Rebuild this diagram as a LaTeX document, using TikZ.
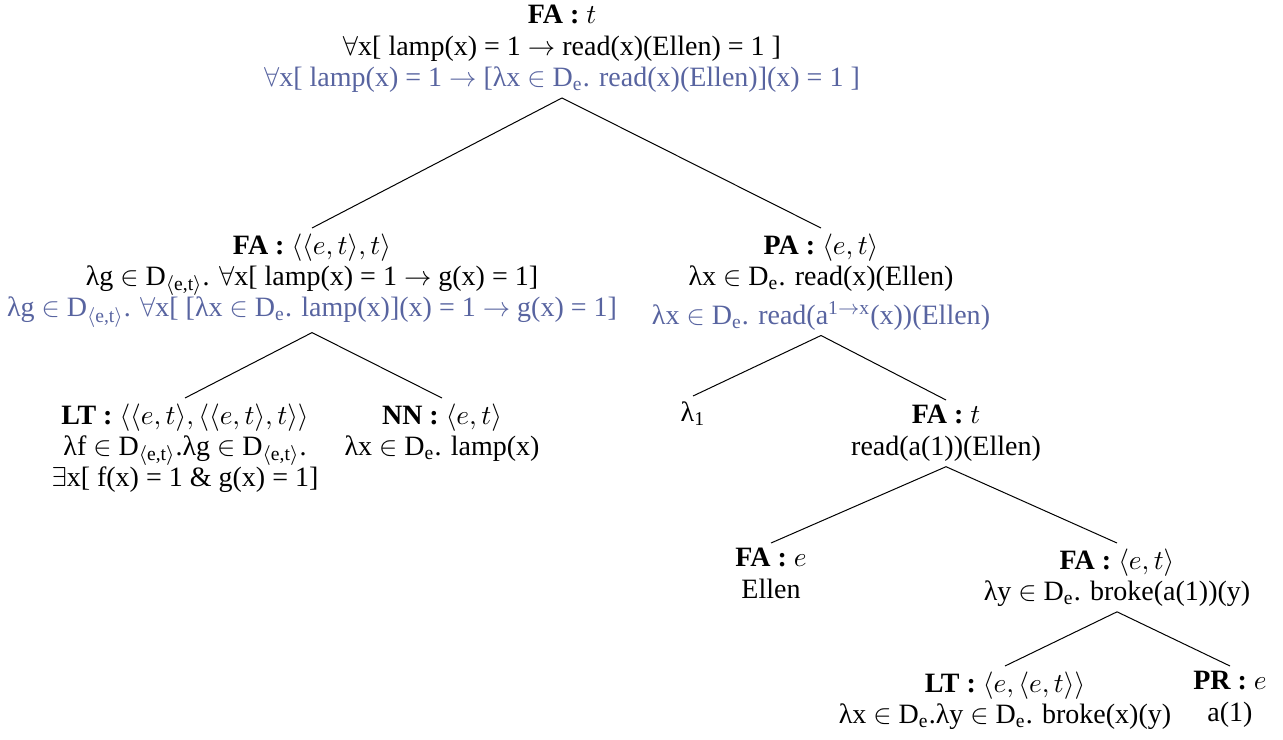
\documentclass[tikz,border=0pt]{standalone}
\usepackage{fontspec}
\setmainfont{Liberation Serif}
\usepackage{xcolor}
\definecolor{glossblue}{RGB}{88,100,160}
\newcommand{\Dsube}{D\textsubscript{e}}
\newcommand{\Dsubet}{D\textsubscript{$\langle$e,t$\rangle$}}
\newcommand{\rl}[1]{\textbf{#1 :}}

\begin{document}
\begin{tikzpicture}[x=0.4pt,y=-0.4pt,
  tnode/.style={align=center,anchor=north,inner sep=2pt,font=\fontsize{11.2}{12.5}\selectfont},
  gloss/.style={glossblue}]
\useasboundingbox (0,0) rectangle (1283,739);

% root
\node[tnode] (top) at (562,0) {\rl{FA} $t$\\
  $\forall$x[ lamp(x) = 1 $\rightarrow$ read(x)(Ellen) = 1 ]\\
  \textcolor{glossblue}{$\forall$x[ lamp(x) = 1 $\rightarrow$ [λx $\in$ \Dsube. read(x)(Ellen)](x) = 1 ]}};

% subject side
\node[tnode] (subj) at (312,228) {\rl{FA} $\langle\langle e,t\rangle,t\rangle$\\
  λg $\in$ \Dsubet. $\forall$x[ lamp(x) = 1 $\rightarrow$ g(x) = 1]\\
  \textcolor{glossblue}{λg $\in$ \Dsubet. $\forall$x[ [λx $\in$ \Dsube. lamp(x)](x) = 1 $\rightarrow$ g(x) = 1]}};
\node[tnode] (det) at (185,398) {\rl{LT} $\langle\langle e,t\rangle,\langle\langle e,t\rangle,t\rangle\rangle$\\
  λf $\in$ \Dsubet.λg $\in$ \Dsubet.\\
  $\exists$x[ f(x) = 1 \& g(x) = 1]};
\node[tnode] (noun) at (442,398) {\rl{NN} $\langle e,t\rangle$\\
  λx $\in$ \Dsube. lamp(x)};

% predicate side
\node[tnode] (pred) at (821,228) {\rl{PA} $\langle e,t\rangle$\\
  λx $\in$ \Dsube. read(x)(Ellen)\\[3pt]
  \textcolor{glossblue}{λx $\in$ \Dsube. read(a\textsuperscript{1$\rightarrow$x}(x))(Ellen)}};
\node[tnode] (bind) at (693,396) {λ\textsubscript{1}};
\node[tnode] (sent) at (946,400) {\rl{FA} $t$\\
  read(a(1))(Ellen)};
\node[tnode] (ellen) at (771,543) {\rl{FA} $e$\\
  Ellen};
\node[tnode] (vp) at (1117,543) {\rl{FA} $\langle e,t\rangle$\\
  λy $\in$ \Dsube. broke(a(1))(y)};
\node[tnode] (verb) at (1005,666) {\rl{LT} $\langle e,\langle e,t\rangle\rangle$\\
  λx $\in$ \Dsube.λy $\in$ \Dsube. broke(x)(y)};
\node[tnode] (pron) at (1230,666) {\rl{PR} $e$\\
  a(1)};

% branches
\draw (top.south) -- (subj.north);
\draw (top.south) -- (pred.north);
\draw (subj.south) -- (det.north);
\draw (subj.south) -- (noun.north);
\draw (pred.south) -- (bind.north);
\draw (pred.south) -- (sent.north);
\draw (sent.south) -- (ellen.north);
\draw (sent.south) -- (vp.north);
\draw (vp.south) -- (verb.north);
\draw (vp.south) -- (pron.north);
\end{tikzpicture}
\end{document}
